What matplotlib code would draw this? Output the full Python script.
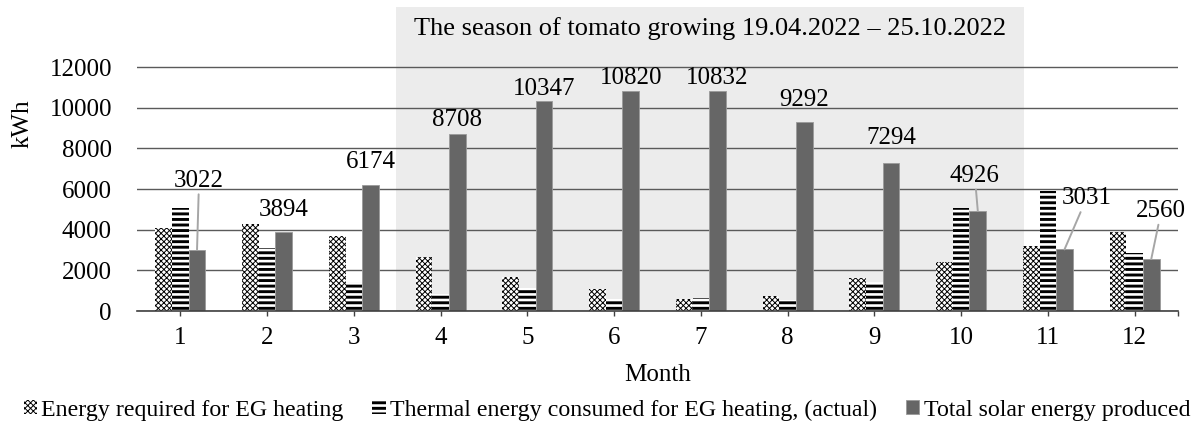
import numpy as np
import matplotlib.pyplot as plt

plt.rcParams['font.family'] = ['Liberation Serif', 'DejaVu Serif']

# data
months = np.arange(1, 13)
energy_required = [4100, 4300, 3700, 2670, 1680, 1090, 590, 740, 1630, 2420, 3210, 3900]
thermal_actual = [5090, 3110, 1430, 840, 1130, 590, 640, 540, 1430, 5090, 5880, 2860]
solar_total = [3022, 3894, 6174, 8708, 10347, 10820, 10832, 9292, 7294, 4926, 3031, 2560]
series_names = [
    "Energy required for EG heating",
    "Thermal energy consumed for EG heating, (actual)",
    "Total solar energy produced",
]
season_text = "The season of tomato growing 19.04.2022 \u2013 25.10.2022"
season_span = (3.486, 10.725)

# label placement (pixels from top of the solar bar) and which ones get a leader line
label_offsets = [(2, 69), (0, 22), (0, 23), (0, 14), (0, 12), (0, 13),
                 (0, 13), (0, 22), (0, 25), (-3, 35), (22, 51), (10, 48)]
with_leader = [True, False, False, False, False, False,
               False, False, False, True, True, True]

W, H = 1194, 421
fig = plt.figure(figsize=(W / 100, H / 100), dpi=100)
ax = fig.add_axes([137 / W, 1 - 311 / H, (1178 - 137) / W, (311 - 7) / H])

ax.set_xlim(0.5, 12.5)
ax.set_ylim(0, 12000 * 304 / 244)

ax.axvspan(*season_span, color="#ececec", lw=0, zorder=0)
ax.text(np.mean(season_span), 1 - 22 / 304, season_text,
        transform=ax.get_xaxis_transform(), ha="center", va="center", fontsize=19)

bw = 0.192
CHECK_LW, STRIPE_LW = 0.7, 2.1


def hatched_bar(x, h, hatch, hlw):
    with plt.rc_context({"hatch.linewidth": hlw}):
        bars = ax.bar(x, h, bw, color="white", edgecolor="black", hatch=hatch, lw=0, zorder=2)
    return bars


b1 = hatched_bar(months - bw, energy_required, "xxxxxx", CHECK_LW)
b2 = hatched_bar(months, thermal_actual, "---", STRIPE_LW)
b3 = ax.bar(months + bw, solar_total, bw, color="#666666", edgecolor="#9a9a9a", lw=0.6, zorder=2)

for m, v, (dx, dy), lead in zip(months, solar_total, label_offsets, with_leader):
    arrow = dict(arrowstyle="-", color="#a6a6a6", lw=1.4, shrinkA=0, shrinkB=0) if lead else None
    ax.annotate(str(v), xy=(m + bw, v), xytext=(dx, dy), textcoords="offset pixels",
                ha="center", va="center", fontsize=18, arrowprops=arrow, zorder=3)

ax.set_yticks(np.arange(0, 12001, 2000))
ax.yaxis.grid(True, color="#5a5a5a", lw=1.0)
ax.set_axisbelow(True)
ax.set_xticks(months)
ax.set_xticks([12.5], minor=True)
ax.tick_params(axis="x", which="both", length=3.6, width=1, color="#404040", labelsize=18, pad=8)
ax.tick_params(axis="y", length=0, labelsize=18, pad=18)
for s in ("left", "right", "top"):
    ax.spines[s].set_visible(False)
ax.spines["bottom"].set_color("#404040")
ax.spines["bottom"].set_linewidth(1.2)
ax.spines["bottom"].set_zorder(4)

fig.text(23 / W, 1 - 124 / H, "kWh", rotation=90, ha="center", va="center", fontsize=18)
fig.text((137 + 1178) / 2 / W, 1 - 375 / H, "Month", ha="center", va="center", fontsize=18)

leg = fig.legend([b1, b2, b3], series_names, loc="center",
                 bbox_to_anchor=(0.5 + 10 / W, 1 - 410 / H),
                 ncol=3, frameon=False, fontsize=17.2, handlelength=0.55, handleheight=0.55,
                 handletextpad=0.2, columnspacing=1.2, borderaxespad=0)
for hnd, lw in zip(leg.legend_handles, (CHECK_LW, STRIPE_LW, None)):
    if lw is not None and hasattr(hnd, "set_hatch_linewidth"):
        hnd.set_hatch_linewidth(lw)

fig.savefig("out.png", dpi=100)
